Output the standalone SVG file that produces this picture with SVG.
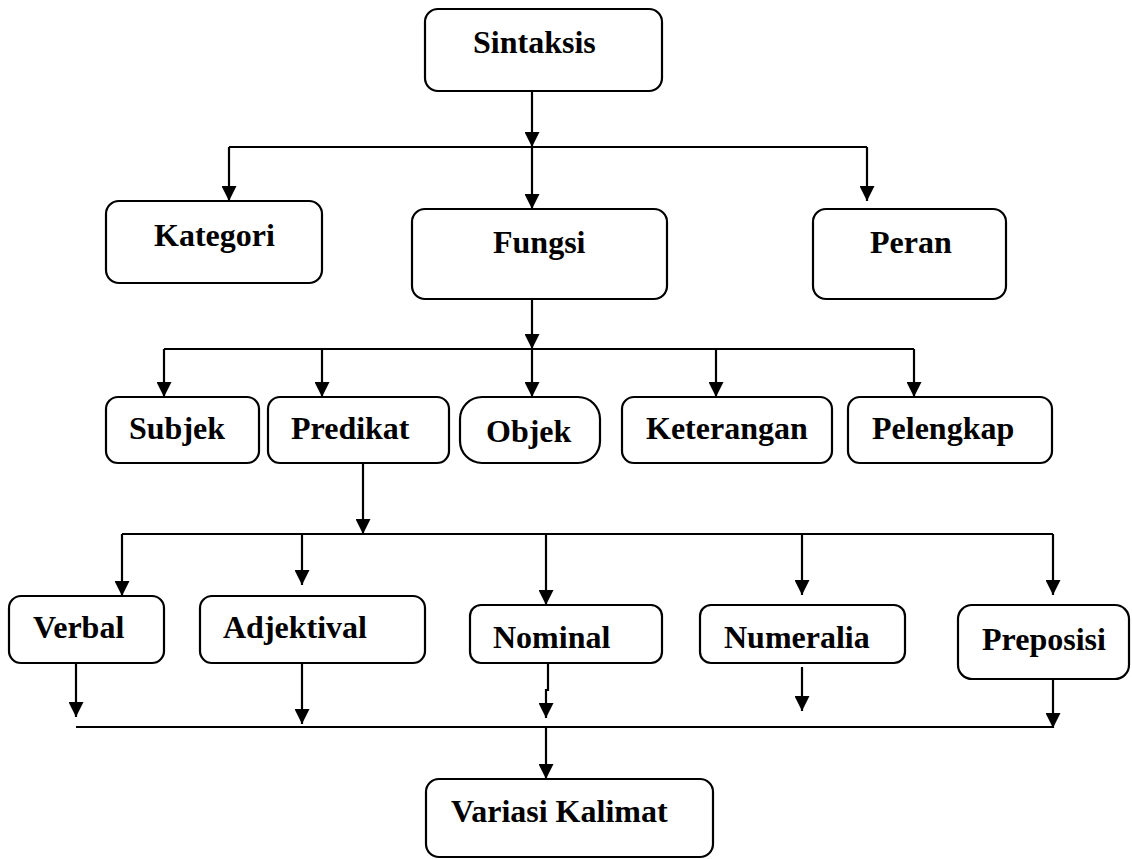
<svg xmlns="http://www.w3.org/2000/svg" width="1132" height="859" viewBox="0 0 1132 859">
<style>
.box{fill:#fff;stroke:#000;stroke-width:2.2}
.lbl{font-family:"Liberation Serif","Times New Roman",serif;font-weight:bold;font-size:32px;fill:#000}
.ln{fill:none;stroke:#000;stroke-width:2.2}
.ar{fill:none;stroke:#000;stroke-width:2.2;marker-end:url(#ah)}
</style>
<defs>
<marker id="ah" markerUnits="userSpaceOnUse" markerWidth="15" markerHeight="15" viewBox="0 0 15 15" refX="15" refY="7.5" orient="auto">
<path d="M0,0 L15,7.5 L0,15 z" fill="#000"/>
</marker>
</defs>
<rect width="1132" height="859" fill="#fff"/>
<g id="connectors">
<path class="ar" d="M532,91 V147"/>
<path class="ln" d="M229,147 H867"/>
<path class="ar" d="M229,147 V201"/>
<path class="ar" d="M532,147 V209"/>
<path class="ar" d="M867,147 V201"/>
<path class="ar" d="M532,299 V349"/>
<path class="ln" d="M164,349 H914"/>
<path class="ar" d="M164,349 V397"/>
<path class="ar" d="M322,349 V397"/>
<path class="ar" d="M532,349 V397"/>
<path class="ar" d="M716,349 V397"/>
<path class="ar" d="M914,349 V397"/>
<path class="ar" d="M363,463 V534"/>
<path class="ln" d="M122,534 H1053"/>
<path class="ar" d="M122,534 V596"/>
<path class="ar" d="M302,534 V585"/>
<path class="ar" d="M546,534 V605"/>
<path class="ar" d="M802,534 V595"/>
<path class="ar" d="M1053,534 V595"/>
<path class="ar" d="M76,663 V717"/>
<path class="ar" d="M302,663 V724"/>
<path class="ar" d="M548,663 V690 H546 V718"/>
<path class="ar" d="M802,667 V711"/>
<path class="ar" d="M1053,679 V728"/>
<path class="ln" d="M76,727 H1053"/>
<path class="ar" d="M546,727 V779"/>
</g>
<g id="sintaksis"><rect class="box" x="425" y="9" width="237" height="82" rx="13"/><text class="lbl" x="473" y="53">Sintaksis</text></g>
<g id="kategori"><rect class="box" x="106" y="201" width="216" height="82" rx="13"/><text class="lbl" x="154" y="246">Kategori</text></g>
<g id="fungsi"><rect class="box" x="412" y="209" width="255" height="90" rx="13"/><text class="lbl" x="493" y="253">Fungsi</text></g>
<g id="peran"><rect class="box" x="813" y="209" width="193" height="90" rx="13"/><text class="lbl" x="870" y="253">Peran</text></g>
<g id="subjek"><rect class="box" x="106" y="397" width="153" height="66" rx="12"/><text class="lbl" x="129" y="439">Subjek</text></g>
<g id="predikat"><rect class="box" x="268" y="397" width="181" height="66" rx="12"/><text class="lbl" x="291" y="439">Predikat</text></g>
<g id="objek"><rect class="box" x="460" y="397" width="140" height="66" rx="22"/><text class="lbl" x="486" y="442">Objek</text></g>
<g id="keterangan"><rect class="box" x="622" y="397" width="210" height="66" rx="12"/><text class="lbl" x="646" y="439">Keterangan</text></g>
<g id="pelengkap"><rect class="box" x="848" y="397" width="204" height="66" rx="12"/><text class="lbl" x="872" y="439">Pelengkap</text></g>
<g id="verbal"><rect class="box" x="9" y="596" width="155" height="67" rx="12"/><text class="lbl" x="33" y="638">Verbal</text></g>
<g id="adjektival"><rect class="box" x="200" y="596" width="225" height="67" rx="12"/><text class="lbl" x="223" y="638">Adjektival</text></g>
<g id="nominal"><rect class="box" x="470" y="605" width="192" height="58" rx="11"/><text class="lbl" x="493" y="648">Nominal</text></g>
<g id="numeralia"><rect class="box" x="700" y="605" width="205" height="58" rx="11"/><text class="lbl" x="724" y="648">Numeralia</text></g>
<g id="preposisi"><rect class="box" x="958" y="605" width="171" height="74" rx="14"/><text class="lbl" x="982" y="650">Preposisi</text></g>
<g id="variasi-kalimat"><rect class="box" x="426" y="779" width="287" height="78" rx="13"/><text class="lbl" x="451" y="822">Variasi Kalimat</text></g>
</svg>
